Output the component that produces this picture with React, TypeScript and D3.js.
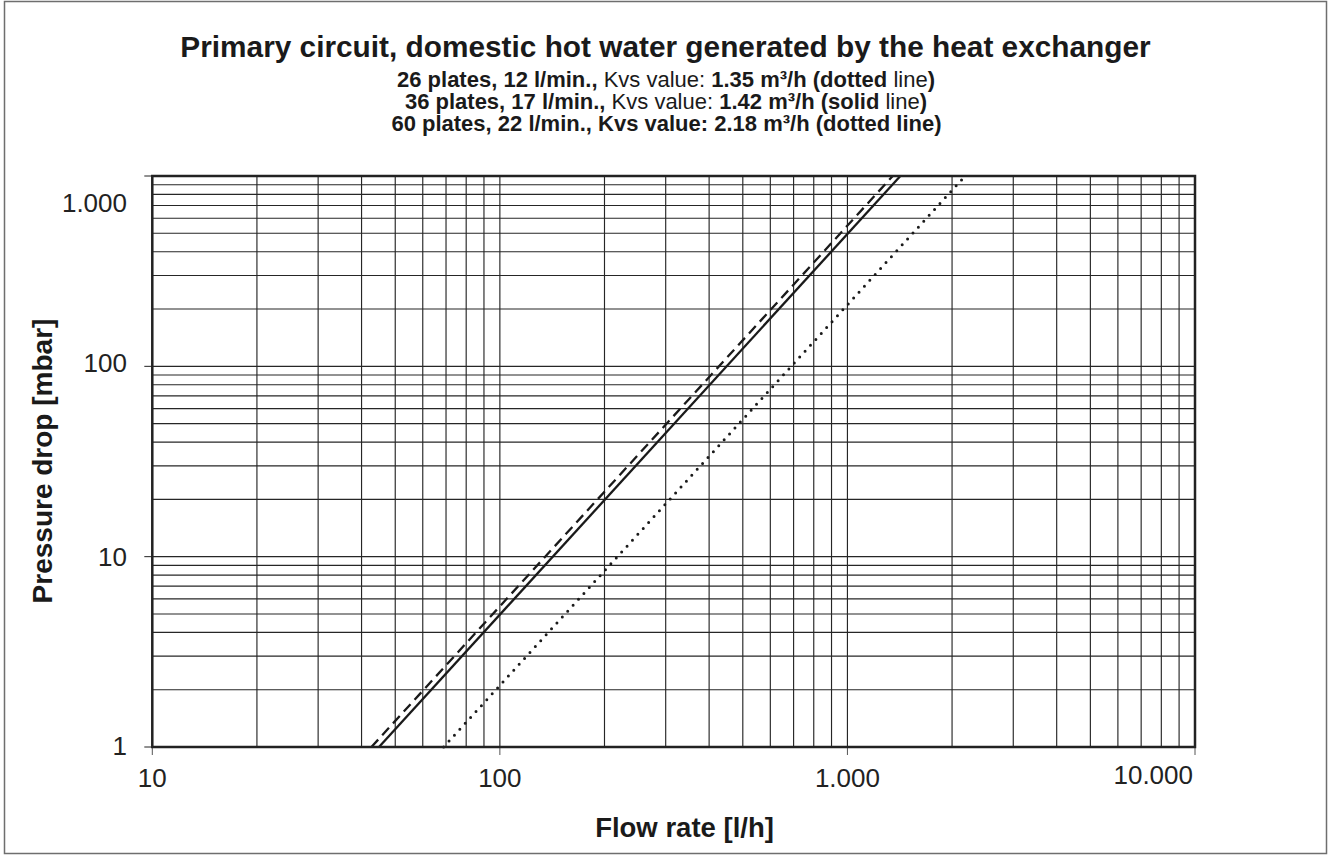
import React from "react";
import * as d3 from "d3";

// ---- data ----
const seriesNames = ["26 plates", "36 plates", "60 plates"];
const kvsValues = [1.35, 1.42, 2.18];
const lineStyles = ["dashed", "solid", "dotted"];
// line end points (flow l/h, pressure mbar)
const flowAtStart = [42.7, 44.9, 68.9];
const pressureAtStart = [1, 1, 1];
const flowAtEnd = [1350, 1420, 2180];
const pressureAtEnd = [1000, 1000, 1000];

const xMajorTicks = [10, 100, 1000, 10000];
const xMajorLabels = ["10", "100", "1.000", "10.000"];
const yMajorTicks = [1, 10, 100, 1000];
const yMajorLabels = ["1", "10", "100", "1.000"];

const titleText = "Primary circuit, domestic hot water generated by the heat exchanger";
const xTitle = "Flow rate [l/h]";
const yTitle = "Pressure drop [mbar]";

const FONT = "'Liberation Sans', Arial, Helvetica, sans-serif";

export default function App() {
  const W = 1330, H = 856;
  const left = 152.3, right = 1195, top = 176, bottom = 747;
  const x = d3.scaleLog().domain([10, 10000]).range([left, right]);
  const y = d3.scaleLog().domain([1, 1000]).range([bottom, top]);
  const xGrid = x.ticks();
  const yGrid = y.ticks();
  const line = d3
    .line<[number, number]>()
    .x((d) => x(d[0]))
    .y((d) => y(d[1]));

  const dashFor = (s: string) =>
    s === "dashed" ? "10 6" : s === "dotted" ? "0 8" : undefined;

  const yLabelOffset = (v: number) => (v === 1000 ? 27 : v === 100 ? -3 : v === 1 ? -1 : 0);

  return (
    <svg
      width={W}
      height={H}
      style={{ position: "absolute", left: 0, top: 0, background: "#fff" }}
      fontFamily={FONT}
    >
      <rect x={4.5} y={1.5} width={1322} height={852} fill="#fff" stroke="#6e6e6e" strokeWidth={1.5} />

      {/* titles */}
      <text x={665.5} y={46} textAnchor="middle" dominantBaseline="central" fontSize={29.8} fontWeight="bold" fill="#1a1a1a">
        {titleText}
      </text>
      <text x={666} y={79} textAnchor="middle" dominantBaseline="central" fontSize={22} fill="#1a1a1a">
        <tspan fontWeight="bold">26 plates, 12 l/min.,</tspan>
        <tspan> Kvs value: </tspan>
        <tspan fontWeight="bold">{kvsValues[0].toFixed(2)} m³/h (dotted</tspan>
        <tspan> line</tspan>
        <tspan fontWeight="bold">)</tspan>
      </text>
      <text x={666} y={101} textAnchor="middle" dominantBaseline="central" fontSize={22} fill="#1a1a1a">
        <tspan fontWeight="bold">36 plates, 17 l/min.,</tspan>
        <tspan> Kvs value: </tspan>
        <tspan fontWeight="bold">{kvsValues[1].toFixed(2)} m³/h (solid</tspan>
        <tspan> line</tspan>
        <tspan fontWeight="bold">)</tspan>
      </text>
      <text x={666.5} y={123} textAnchor="middle" dominantBaseline="central" fontSize={22} fontWeight="bold" fill="#1a1a1a">
        {`60 plates, 22 l/min., Kvs value: ${kvsValues[2].toFixed(2)} m³/h (dotted line)`}
      </text>

      {/* grid */}
      {xGrid.map((v, i) => (
        <line key={"gx" + i} x1={x(v)} x2={x(v)} y1={top} y2={bottom} stroke="#262626" strokeWidth={1.15} />
      ))}
      {yGrid.map((v, i) => (
        <line key={"gy" + i} x1={left} x2={right} y1={y(v)} y2={y(v)} stroke="#262626" strokeWidth={1.15} />
      ))}

      {/* major ticks */}
      {xMajorTicks.map((v, i) => (
        <line key={"tx" + i} x1={x(v)} x2={x(v)} y1={bottom} y2={bottom + 8} stroke="#555" strokeWidth={1} />
      ))}
      {yMajorTicks.map((v, i) => (
        <line key={"ty" + i} x1={left - 8} x2={left} y1={y(v)} y2={y(v)} stroke="#222" strokeWidth={1} />
      ))}

      {/* series */}
      <g>
        {seriesNames.map((name, i) => {
          const pts: [number, number][] = [
            [flowAtStart[i], pressureAtStart[i]],
            [flowAtEnd[i], pressureAtEnd[i]],
          ];
          const s = lineStyles[i];
          return (
            <path
              key={name}
              d={line(pts) || ""}
              fill="none"
              stroke="#1a1a1a"
              strokeWidth={s === "dotted" ? 3 : 2.3}
              strokeDasharray={dashFor(s)}
              strokeLinecap={s === "dotted" ? "round" : "butt"}
            />
          );
        })}
      </g>

      {/* plot frame */}
      <rect x={left} y={top} width={right - left} height={bottom - top} fill="none" stroke="#222" strokeWidth={2.5} />

      {/* tick labels */}
      {yMajorTicks.map((v, i) => (
        <text key={"ly" + i} x={127} y={y(v) + yLabelOffset(v)} textAnchor="end" dominantBaseline="central" fontSize={26} fill="#222">
          {yMajorLabels[i]}
        </text>
      ))}
      {xMajorTicks.map((v, i) => {
        const last = i === xMajorTicks.length - 1;
        return (
          <text
            key={"lx" + i}
            x={last ? x(v) - 2 : x(v)}
            y={last ? 775 : 778}
            textAnchor={last ? "end" : "middle"}
            dominantBaseline="central"
            fontSize={26}
            fill="#222"
          >
            {xMajorLabels[i]}
          </text>
        );
      })}

      {/* axis titles */}
      <text x={684.5} y={827} textAnchor="middle" dominantBaseline="central" fontSize={27.5} fontWeight="bold" fill="#1a1a1a">
        {xTitle}
      </text>
      <text
        transform={`translate(42,461) rotate(-90)`}
        textAnchor="middle"
        dominantBaseline="central"
        fontSize={28}
        fontWeight="bold"
        fill="#1a1a1a"
      >
        {yTitle}
      </text>
    </svg>
  );
}
